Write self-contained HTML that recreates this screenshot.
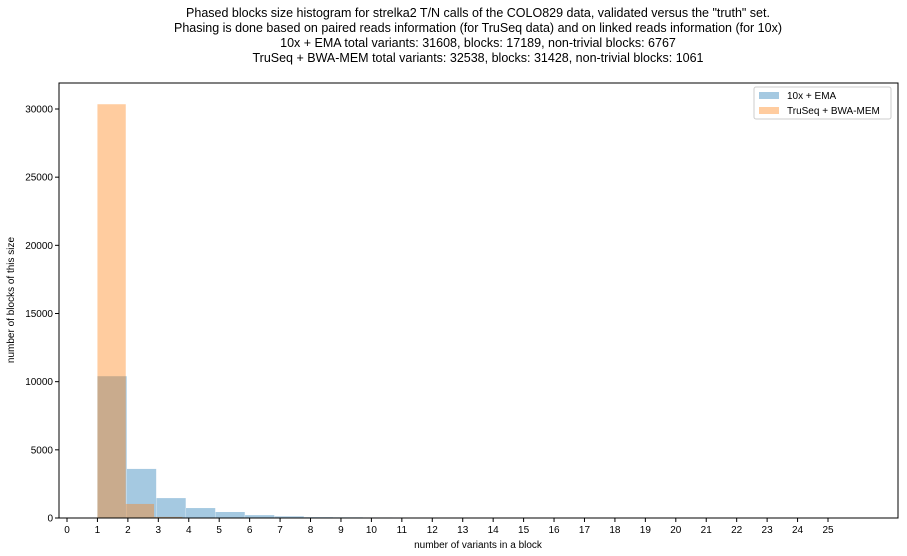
<!DOCTYPE html>
<html><head><meta charset="utf-8"><style>
body{margin:0;background:#fff;}
svg{display:block;font-family:"Liberation Sans","DejaVu Sans",sans-serif;}
</style></head><body>
<svg id="chart" width="907" height="556" viewBox="0 0 907 556">
<g font-size="12.5" text-anchor="middle" fill="#000">
<text x="478" y="17">Phased blocks size histogram for strelka2 T/N calls of the COLO829 data, validated versus the "truth" set.</text>
<text x="478" y="32">Phasing is done based on paired reads information (for TruSeq data) and on linked reads information (for 10x)</text>
<text x="478" y="47">10x + EMA total variants: 31608, blocks: 17189, non-trivial blocks: 6767</text>
<text x="478" y="62">TruSeq + BWA-MEM total variants: 32538, blocks: 31428, non-trivial blocks: 1061</text>
</g>
<g id="bars"></g>
<rect x="59" y="83" width="839" height="435" fill="none" stroke="#000" stroke-width="1"/>
<g id="xticks"></g><g id="yticks"></g>
<text x="478" y="548" font-size="10" text-anchor="middle">number of variants in a block</text>
<text transform="translate(14,300) rotate(-90)" font-size="10" text-anchor="middle">number of blocks of this size</text>
<g>
<rect x="754" y="87" width="137" height="32" rx="2" fill="#fff" stroke="#ccc"/>
<g><rect x="759" y="92" width="20" height="7" fill="#1f77b4" fill-opacity="0.4"/><text x="787" y="99" font-size="10">10x + EMA</text></g>
<g><rect x="759" y="107" width="20" height="7" fill="#ff7f0e" fill-opacity="0.4"/><text x="787" y="114" font-size="10">TruSeq + BWA-MEM</text></g>
</g>
</svg>
<script>
const blueStarts=[1,1.97,2.94,3.91,4.88,5.85,6.82,7.79,8.76,9.73];
const blueWidth=0.96;
const blueValues=[10400,3600,1460,730,440,210,120,60,50,40];
const orangeStarts=[1,1.93,2.86];
const orangeWidth=0.93;
const orangeValues=[30350,1030,80];
const xTickLabels=[0,1,2,3,4,5,6,7,8,9,10,11,12,13,14,15,16,17,18,19,20,21,22,23,24,25];
const yTickLabels=[0,5000,10000,15000,20000,25000,30000];
const NS='http://www.w3.org/2000/svg';
const xs=v=>67+v*30.44;
const ys=v=>518-v*(409/30000);
const bars=document.getElementById('bars');
function bar(s,w,v,color,name){
 const r=document.createElementNS(NS,'rect');
 r.setAttribute('x',xs(s));r.setAttribute('width',xs(s+w)-xs(s));
 r.setAttribute('y',ys(v));r.setAttribute('height',518-ys(v));
 r.setAttribute('fill',color);r.setAttribute('fill-opacity','0.4');
 
 
 bars.appendChild(r);
}
blueStarts.forEach((s,i)=>bar(s,blueWidth,blueValues[i],'#1f77b4','bar-10x-'+i));
orangeStarts.forEach((s,i)=>bar(s,orangeWidth,orangeValues[i],'#ff7f0e','bar-truseq-'+i));
const xt=document.getElementById('xticks');
xTickLabels.forEach(v=>{
 const g=document.createElementNS(NS,'g');
 
 
 g.innerHTML=`<line x1="${xs(v)}" x2="${xs(v)}" y1="518" y2="522" stroke="#000"/><text x="${xs(v)}" y="533" font-size="10" text-anchor="middle">${v}</text>`;
 xt.appendChild(g);
});
const yt=document.getElementById('yticks');
yTickLabels.forEach(v=>{
 const g=document.createElementNS(NS,'g');
 
 
 g.innerHTML=`<line x1="55" x2="59" y1="${ys(v)}" y2="${ys(v)}" stroke="#000"/><text x="53" y="${ys(v)+3.5}" font-size="10" text-anchor="end">${v}</text>`;
 yt.appendChild(g);
});
</script>
</body></html>
